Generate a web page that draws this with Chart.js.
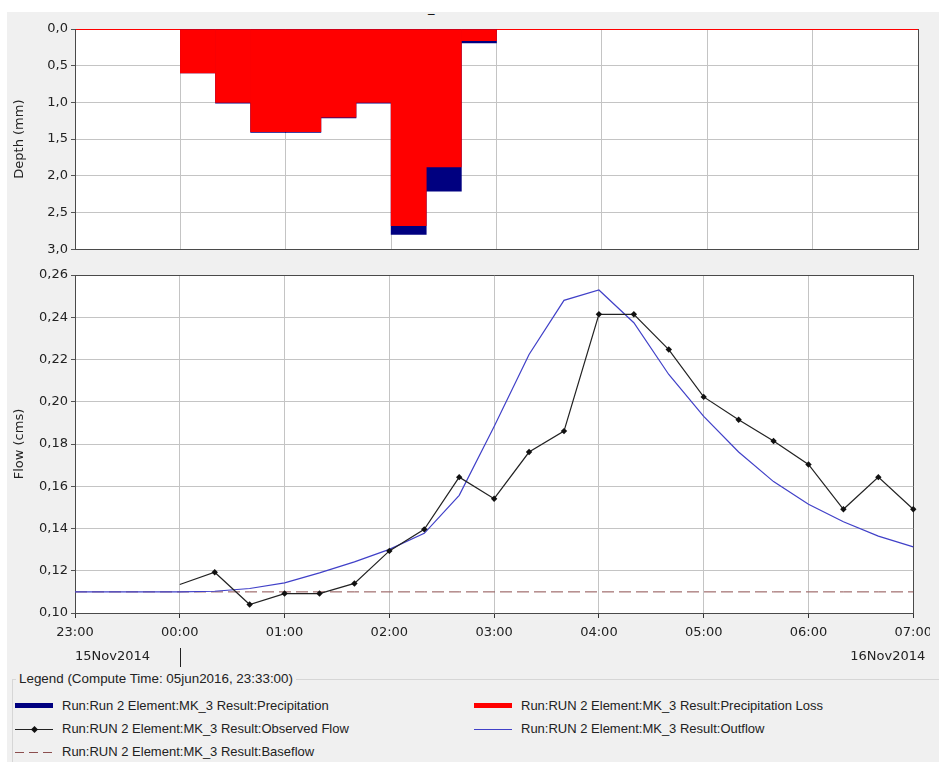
<!DOCTYPE html>
<html>
<head>
<meta charset="utf-8">
<script src="https://cdn.jsdelivr.net/npm/chart.js@4.4.0/dist/chart.umd.min.js"></script>
<style>
  body { margin: 0; background: #fff; width: 939px; height: 762px; overflow: hidden; position: relative; }
  .panel { position: absolute; left: 7px; top: 12px; width: 932px; height: 750px; background: #f0f0f0; }
  #topBox { position: absolute; left: 0; top: 0; width: 939px; height: 260px; }
  #bottomBox { position: absolute; left: 0; top: 260px; width: 930px; height: 410px; overflow: hidden; }
  .mark { position: absolute; left: 428px; top: 0px; font: 13px "DejaVu Sans"; color: #000; }
  .legendBox { position: absolute; left: 12px; top: 679px; width: 940px; height: 120px; border-left: 1px solid #d6d6d6; border-top: 1px solid #d6d6d6; }
  .legendTitle { position: absolute; left: 16px; top: 671px; padding: 0 3px; background: #f0f0f0; font: 13.4px "Liberation Sans", Arial, sans-serif; color: #222; }
  .item { position: absolute; font: 13px "Liberation Sans", Arial, sans-serif; color: #222; white-space: nowrap; }
  .sym { position: absolute; }
</style>
</head>
<body>
<div class="panel"></div>
<div class="mark">_</div>
<div id="topBox"><canvas id="depthChart" width="939" height="260"></canvas></div>
<div id="bottomBox"><canvas id="flowChart" width="939" height="410"></canvas></div>
<div class="legendBox"></div>
<div class="legendTitle">Legend (Compute Time: 05jun2016, 23:33:00)</div>
<div id="legend"></div>
<script>
// time axis runs 23:00 (15Nov2014) to 07:00 (16Nov2014)
const axisStart = '23:00';
const axisEnd = '07:00';

// 20-minute intervals, labelled by interval start
const precipTimes = ['00:00', '00:20', '00:40', '01:00', '01:20', '01:40', '02:00', '02:20', '02:40'];
const precipitation = [0.60, 1.01, 1.41, 1.41, 1.21, 1.01, 2.80, 2.21, 0.19];
const precipLoss = [0.60, 1.00, 1.40, 1.40, 1.20, 1.00, 2.68, 1.88, 0.16];

const observedTimes = ['00:00', '00:20', '00:40', '01:00', '01:20', '01:40', '02:00', '02:20', '02:40',
  '03:00', '03:20', '03:40', '04:00', '04:20', '04:40', '05:00', '05:20', '05:40', '06:00', '06:20', '06:40', '07:00'];
const observedFlow = [0.1135, 0.1193, 0.104, 0.1092, 0.1092, 0.114, 0.1294, 0.1396, 0.1643,
  0.1541, 0.1762, 0.1861, 0.2414, 0.2414, 0.2247, 0.2023, 0.1915, 0.1814, 0.1703, 0.1491, 0.1643, 0.1491];

const outflowTimes = ['23:00', '23:20', '23:40', '00:00', '00:20', '00:40', '01:00', '01:20', '01:40', '02:00', '02:20', '02:40',
  '03:00', '03:20', '03:40', '04:00', '04:20', '04:40', '05:00', '05:20', '05:40', '06:00', '06:20', '06:40', '07:00'];
const outflow = [0.11, 0.11, 0.11, 0.11, 0.1103, 0.1116, 0.1143, 0.119, 0.1242, 0.1301, 0.1377, 0.1557,
  0.1883, 0.2224, 0.248, 0.2529, 0.2374, 0.2129, 0.1931, 0.1762, 0.1622, 0.1515, 0.1432, 0.1364, 0.1313];
const baseflow = [0.11, 0.11, 0.11, 0.11, 0.11, 0.11, 0.11, 0.11, 0.11, 0.11, 0.11, 0.11,
  0.11, 0.11, 0.11, 0.11, 0.11, 0.11, 0.11, 0.11, 0.11, 0.11, 0.11, 0.11, 0.11];

const legendItems = [
  'Run:Run 2 Element:MK_3 Result:Precipitation',
  'Run:RUN 2 Element:MK_3 Result:Precipitation Loss',
  'Run:RUN 2 Element:MK_3 Result:Observed Flow',
  'Run:RUN 2 Element:MK_3 Result:Outflow',
  'Run:RUN 2 Element:MK_3 Result:Baseflow'
];

// minutes after 23:00
function toMin(t) {
  let [h, m] = t.split(':').map(Number);
  if (h >= 23) h -= 24;
  return (h + 1) * 60 + m;
}
function fmtTime(v) {
  let h = (23 + Math.floor(v / 60)) % 24;
  let m = v % 60;
  return String(h).padStart(2, '0') + ':' + String(m).padStart(2, '0');
}
const xMin = toMin(axisStart);
const xMax = toMin(axisEnd);

const whiteArea = {
  id: 'whiteArea',
  beforeDraw(chart) {
    const a = chart.chartArea;
    chart.ctx.save();
    chart.ctx.fillStyle = '#fff';
    chart.ctx.fillRect(a.left, a.top, a.right - a.left, a.bottom - a.top);
    chart.ctx.restore();
  }
};

const tickFont = { family: 'DejaVu Sans', size: 13 };
const gridGray = '#c4c4c4';
const edge = '#4a4a4a';

// top: depth bars (reversed axis)
const precipBars = precipTimes.map((t, i) => ({ x: toMin(t) + 10, y: precipitation[i] }));
const lossBars = precipTimes.map((t, i) => ({ x: toMin(t) + 10, y: precipLoss[i] }));

new Chart(document.getElementById('depthChart'), {
  type: 'bar',
  data: {
    datasets: [
      { label: legendItems[0], data: precipBars, backgroundColor: '#000080', grouped: false, order: 2,
        barPercentage: 1, categoryPercentage: 1 },
      { label: legendItems[1], data: lossBars, backgroundColor: '#ff0000', grouped: false, order: 1,
        barPercentage: 1, categoryPercentage: 1 }
    ]
  },
  options: {
    responsive: false,
    animation: false,
    layout: { padding: { top: 29, right: 21, bottom: 9, left: 0 } },
    plugins: { legend: { display: false }, tooltip: { enabled: false } },
    scales: {
      x: {
        type: 'linear', min: xMin, max: xMax, offset: false,
        ticks: { display: false, stepSize: 60 },
        grid: { offset: false, color: c => c.tick && c.tick.value === xMax ? edge : gridGray, drawTicks: false },
        border: { color: edge, width: 1 },
        afterFit: s => { s.height = 0; }
      },
      y: {
        reverse: true, min: 0, max: 3,
        ticks: { stepSize: 0.5, font: tickFont, color: '#222', padding: 3,
          callback: v => v.toFixed(1).replace('.', ',') },
        grid: { color: c => c.tick && c.tick.value === 0 ? '#ff0000' : gridGray, tickLength: 4, tickColor: '#555' },
        border: { color: edge, width: 1 },
        title: { display: true, text: 'Depth (mm)', font: { family: 'DejaVu Sans', size: 13 }, color: '#222',
          padding: { top: 12, bottom: 0 } },
        afterFit: s => { s.width = 75; }
      }
    }
  },
  plugins: [whiteArea]
});

// bottom: flow lines
const dateLabels = {
  id: 'dateLabels',
  afterDraw(chart) {
    const ctx = chart.ctx;
    const xs = chart.scales.x;
    const y = chart.chartArea.bottom + 44;
    ctx.save();
    ctx.font = '13px "DejaVu Sans"';
    ctx.fillStyle = '#222';
    ctx.textBaseline = 'middle';
    ctx.textAlign = 'left';
    ctx.fillText('15Nov2014', xs.left, y);
    ctx.textAlign = 'right';
    ctx.fillText('16Nov2014', xs.right + 12, y);
    const mid = Math.round(xs.getPixelForValue(toMin('00:00'))) + 0.5;
    ctx.strokeStyle = '#222';
    ctx.lineWidth = 1;
    ctx.beginPath();
    ctx.moveTo(mid, y - 9);
    ctx.lineTo(mid, y + 10);
    ctx.stroke();
    ctx.restore();
  }
};

new Chart(document.getElementById('flowChart'), {
  type: 'line',
  data: {
    datasets: [
      { label: legendItems[4], data: outflowTimes.map((t, i) => ({ x: toMin(t), y: baseflow[i] })),
        borderColor: '#8c4f4f', borderWidth: 1, borderDash: [12, 5], pointRadius: 0, order: 3 },
      { label: legendItems[3], data: outflowTimes.map((t, i) => ({ x: toMin(t), y: outflow[i] })),
        borderColor: '#4040c8', borderWidth: 1.2, pointRadius: 0, order: 2 },
      { label: legendItems[2], data: observedTimes.map((t, i) => ({ x: toMin(t), y: observedFlow[i] })),
        borderColor: '#222', borderWidth: 1.2, pointStyle: 'rectRot',
        pointRadius: c => c.dataIndex === 0 ? 0 : 3.2, pointBackgroundColor: '#111', pointBorderColor: '#111',
        pointBorderWidth: 0, order: 1 }
    ]
  },
  options: {
    responsive: false,
    animation: false,
    clip: false,
    layout: { padding: { top: 15, right: 21, bottom: 0, left: 0 } },
    plugins: { legend: { display: false }, tooltip: { enabled: false } },
    scales: {
      x: {
        type: 'linear', min: xMin, max: xMax,
        ticks: { stepSize: 60, font: tickFont, color: '#222', padding: 7, maxRotation: 0, autoSkip: false,
          callback: v => fmtTime(v) },
        grid: { color: c => c.tick && c.tick.value === xMax ? edge : gridGray, tickLength: 5, tickColor: '#333' },
        border: { color: edge, width: 1 },
        afterFit: s => { s.height = 57; }
      },
      y: {
        min: 0.10, max: 0.26,
        ticks: { stepSize: 0.02, font: tickFont, color: '#222', padding: 3,
          callback: v => v.toFixed(2).replace('.', ',') },
        grid: { color: c => c.tick && Math.abs(c.tick.value - 0.26) < 1e-6 ? edge : gridGray, tickLength: 4, tickColor: '#555' },
        border: { color: edge, width: 1 },
        title: { display: true, text: 'Flow (cms)', font: { family: 'DejaVu Sans', size: 13 }, color: '#222',
          padding: { top: 12, bottom: 0 } },
        afterFit: s => { s.width = 75; }
      }
    }
  },
  plugins: [whiteArea, dateLabels]
});

// legend rows below the plots
const legendSpec = [
  { text: legendItems[0], x: 15, y: 706, kind: 'bar', color: '#000080' },
  { text: legendItems[1], x: 474, y: 706, kind: 'bar', color: '#ff0000' },
  { text: legendItems[2], x: 15, y: 729, kind: 'marker', color: '#222' },
  { text: legendItems[3], x: 474, y: 729, kind: 'line', color: '#4040c8' },
  { text: legendItems[4], x: 15, y: 752, kind: 'dash', color: '#8c4f4f' }
];
const leg = document.getElementById('legend');
legendSpec.forEach(s => {
  const sym = document.createElement('div');
  sym.className = 'sym';
  sym.style.left = s.x + 'px';
  sym.style.width = '38px';
  if (s.kind === 'bar') {
    sym.style.top = (s.y - 3) + 'px';
    sym.style.height = '5px';
    sym.style.background = s.color;
  } else if (s.kind === 'dash') {
    sym.style.top = s.y + 'px';
    sym.style.height = '1px';
    sym.style.background = 'repeating-linear-gradient(to right, ' + s.color + ' 0 9px, transparent 9px 14px)';
  } else {
    sym.style.top = s.y + 'px';
    sym.style.height = '1px';
    sym.style.background = s.color;
  }
  leg.appendChild(sym);
  if (s.kind === 'marker') {
    const d = document.createElement('div');
    d.className = 'sym';
    d.style.left = (s.x + 17) + 'px';
    d.style.top = (s.y - 2) + 'px';
    d.style.width = '5px';
    d.style.height = '5px';
    d.style.background = '#111';
    d.style.transform = 'rotate(45deg)';
    leg.appendChild(d);
  }
  const t = document.createElement('div');
  t.className = 'item';
  t.style.left = (s.x + 47) + 'px';
  t.style.top = (s.y - 8) + 'px';
  t.textContent = s.text;
  leg.appendChild(t);
});
</script>
</body>
</html>
